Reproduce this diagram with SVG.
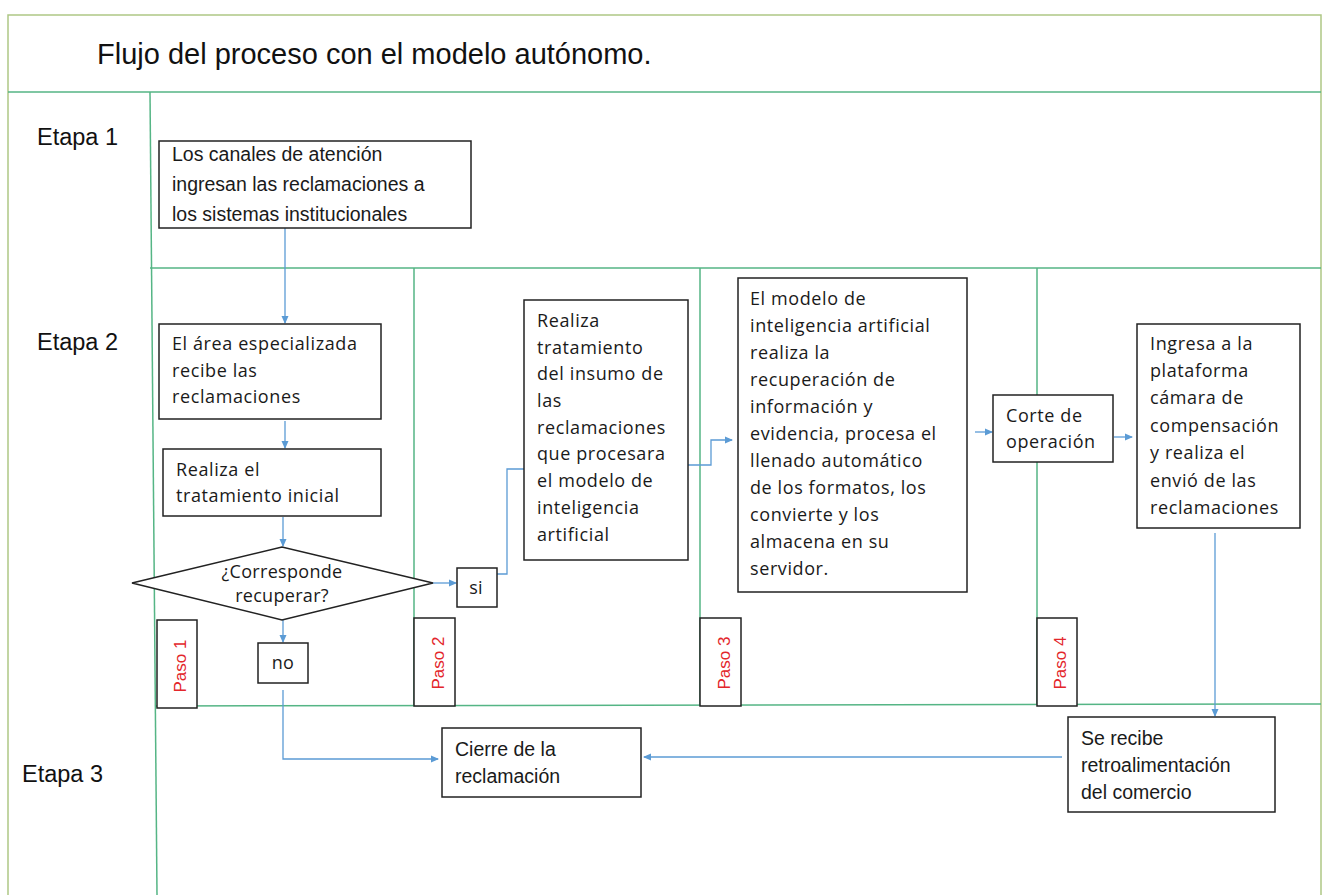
<svg xmlns="http://www.w3.org/2000/svg" width="1325" height="895" viewBox="0 0 1325 895">
<defs>
<marker id="arr" markerWidth="8" markerHeight="8" refX="7" refY="4" orient="auto" markerUnits="userSpaceOnUse">
<path d="M0,0.5 L8,4 L0,7.5 Z" fill="#5b9bd5"/>
</marker>
<style>
.lane{stroke:#55b585;stroke-width:1.5;fill:none}
.frame{stroke:#aec785;stroke-width:1.5;fill:none}
.box{fill:#fff;stroke:#222;stroke-width:1.5}
.c{font-family:"Liberation Sans",Arial,sans-serif;font-size:19.5px;fill:#1a1a1a}
.s{font-family:"Open Sans","Liberation Sans",sans-serif;font-size:18px;letter-spacing:0.6px;fill:#1a1a1a}
.d{font-family:"Open Sans","Liberation Sans",sans-serif;font-size:18px;letter-spacing:0.3px;fill:#1a1a1a;text-anchor:middle}
.big{font-family:"Liberation Sans",Arial,sans-serif;font-size:23.5px;fill:#111}
.paso{font-family:"Liberation Sans",Arial,sans-serif;font-size:17px;fill:#e3262b;text-anchor:middle}
.con{stroke:#5b9bd5;stroke-width:1.3;fill:none}
</style>
</defs>
<rect width="1325" height="895" fill="#fff"/>
<g id="lanes">
<path class="frame" d="M8,895 V15 H1321 V895"/>
<line class="lane" x1="8" y1="92" x2="1321" y2="92"/>
<line class="lane" x1="150" y1="92" x2="157" y2="895"/>
<line class="lane" x1="150" y1="268" x2="1321" y2="268"/>
<line class="lane" x1="155" y1="706" x2="1321" y2="704"/>
<line class="lane" x1="414" y1="268" x2="414" y2="706"/>
<line class="lane" x1="700" y1="268" x2="700" y2="706"/>
<line class="lane" x1="1037" y1="268" x2="1037" y2="705"/>
</g>
<text class="big" x="97" y="64" style="font-size:29px">Flujo del proceso con el modelo autónomo.</text>
<text class="big" x="37" y="145">Etapa 1</text>
<text class="big" x="37" y="350">Etapa 2</text>
<text class="big" x="22" y="782">Etapa 3</text>
<g id="connectors">
<line class="con" x1="285" y1="228" x2="285" y2="323" marker-end="url(#arr)"/>
<line class="con" x1="285" y1="421" x2="285" y2="448" marker-end="url(#arr)"/>
<line class="con" x1="283" y1="517" x2="283" y2="546" marker-end="url(#arr)"/>
<line class="con" x1="433" y1="583" x2="456" y2="583" marker-end="url(#arr)"/>
<line class="con" x1="283" y1="620" x2="283" y2="642" marker-end="url(#arr)"/>
<polyline class="con" points="497,574 507,574 507,469 524,469"/>
<polyline class="con" points="688,465 711,465 711,440 732,440" marker-end="url(#arr)"/>
<line class="con" x1="975" y1="432" x2="992" y2="432" marker-end="url(#arr)"/>
<line class="con" x1="1114" y1="437" x2="1132" y2="437" marker-end="url(#arr)"/>
<line class="con" x1="1215" y1="533" x2="1215" y2="716" marker-end="url(#arr)"/>
<line class="con" x1="1062" y1="757" x2="644" y2="757" marker-end="url(#arr)"/>
<polyline class="con" points="283,690 283,759 438,759" marker-end="url(#arr)"/>
</g>
<g id="n1">
<rect class="box" x="159" y="141" width="312" height="87"/>
<text class="c" x="172" y="161">Los canales de atención</text>
<text class="c" x="172" y="191">ingresan las reclamaciones a</text>
<text class="c" x="172" y="221">los sistemas institucionales</text>
</g>
<g id="n2">
<rect class="box" x="159" y="324" width="222" height="95"/>
<text class="s" x="172" y="350">El área especializada</text>
<text class="s" x="172" y="377">recibe las</text>
<text class="s" x="172" y="403">reclamaciones</text>
</g>
<g id="n3">
<rect class="box" x="163" y="449" width="218" height="67"/>
<text class="s" x="176" y="476">Realiza el</text>
<text class="s" x="176" y="502">tratamiento inicial</text>
</g>
<g id="n4">
<polygon class="box" points="132,583 282,547 433,583 282,620"/>
<text class="d" x="282" y="578">¿Corresponde</text>
<text class="d" x="282" y="602">recuperar?</text>
</g>
<g id="n5">
<rect class="box" x="457" y="568" width="40" height="39"/>
<text class="d" x="476" y="594">si</text>
</g>
<g id="n6">
<rect class="box" x="258" y="643" width="50" height="40"/>
<text class="d" x="283" y="669">no</text>
</g>
<g id="n7">
<rect class="box" x="524" y="300" width="164" height="260"/>
<text class="s" x="537" y="327">Realiza</text>
<text class="s" x="537" y="354">tratamiento</text>
<text class="s" x="537" y="380">del insumo de</text>
<text class="s" x="537" y="407">las</text>
<text class="s" x="537" y="434">reclamaciones</text>
<text class="s" x="537" y="460">que procesara</text>
<text class="s" x="537" y="487">el modelo de</text>
<text class="s" x="537" y="514">inteligencia</text>
<text class="s" x="537" y="541">artificial</text>
</g>
<g id="n8">
<rect class="box" x="738" y="278" width="229" height="314"/>
<text class="s" x="750" y="305">El modelo de</text>
<text class="s" x="750" y="332">inteligencia artificial</text>
<text class="s" x="750" y="359">realiza la</text>
<text class="s" x="750" y="386">recuperación de</text>
<text class="s" x="750" y="413">información y</text>
<text class="s" x="750" y="440">evidencia, procesa el</text>
<text class="s" x="750" y="467">llenado automático</text>
<text class="s" x="750" y="494">de los formatos, los</text>
<text class="s" x="750" y="521">convierte y los</text>
<text class="s" x="750" y="548">almacena en su</text>
<text class="s" x="750" y="575">servidor.</text>
</g>
<g id="n9">
<rect class="box" x="993" y="395" width="120" height="67"/>
<text class="s" x="1006" y="422">Corte de</text>
<text class="s" x="1006" y="448">operación</text>
</g>
<g id="n10">
<rect class="box" x="1137" y="324" width="163" height="204"/>
<text class="s" x="1150" y="350">Ingresa a la</text>
<text class="s" x="1150" y="377">plataforma</text>
<text class="s" x="1150" y="404">cámara de</text>
<text class="s" x="1150" y="432">compensación</text>
<text class="s" x="1150" y="459">y realiza el</text>
<text class="s" x="1150" y="487">envió de las</text>
<text class="s" x="1150" y="514">reclamaciones</text>
</g>
<g id="n11">
<rect class="box" x="1068" y="717" width="207" height="95"/>
<text class="c" x="1081" y="745">Se recibe</text>
<text class="c" x="1081" y="772">retroalimentación</text>
<text class="c" x="1081" y="799">del comercio</text>
</g>
<g id="n12">
<rect class="box" x="442" y="728" width="199" height="69"/>
<text class="c" x="455" y="756">Cierre de la</text>
<text class="c" x="455" y="783">reclamación</text>
</g>
<g id="paso1">
<rect class="box" x="157" y="620" width="40" height="88"/>
<text class="paso" transform="translate(186,666) rotate(-90)">Paso 1</text>
</g>
<g id="paso2">
<rect class="box" x="414" y="618" width="41" height="88"/>
<text class="paso" transform="translate(444,663) rotate(-90)">Paso 2</text>
</g>
<g id="paso3">
<rect class="box" x="700" y="618" width="41" height="88"/>
<text class="paso" transform="translate(730,663) rotate(-90)">Paso 3</text>
</g>
<g id="paso4">
<rect class="box" x="1037" y="618" width="40" height="88"/>
<text class="paso" transform="translate(1066,663) rotate(-90)">Paso 4</text>
</g>
</svg>
